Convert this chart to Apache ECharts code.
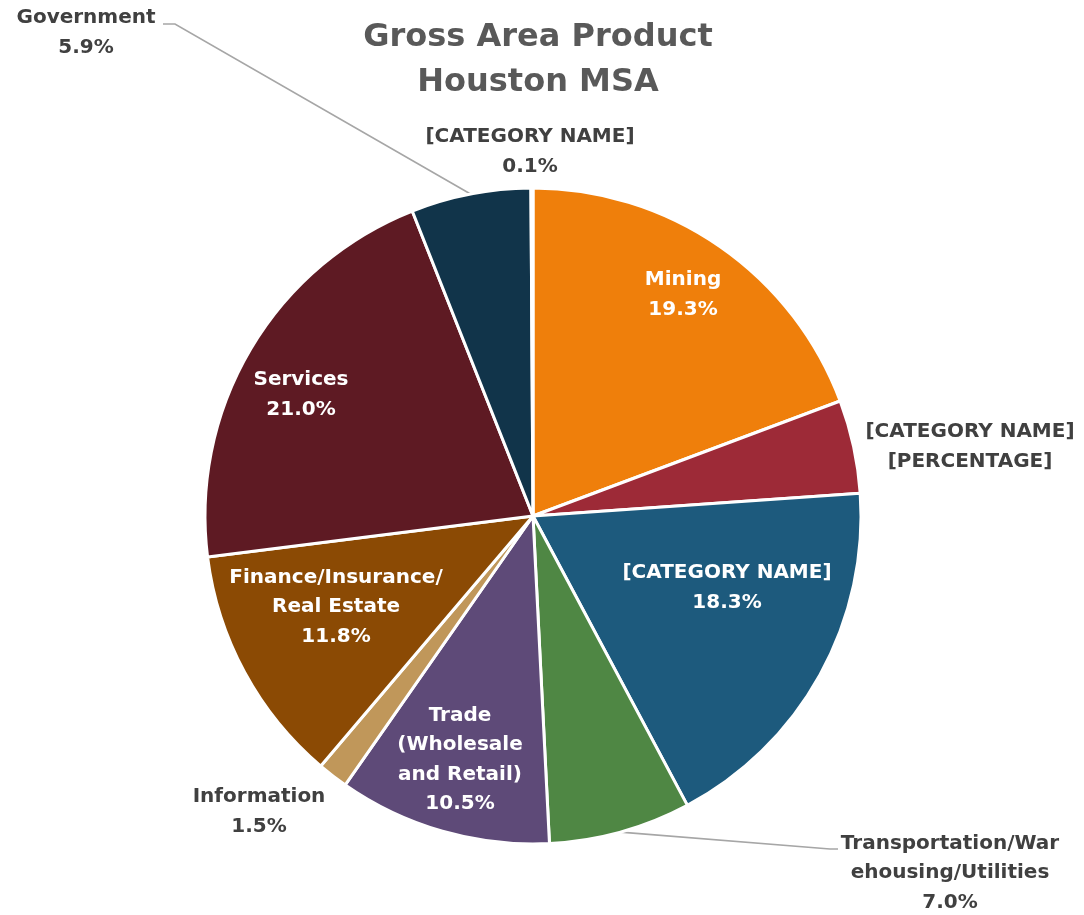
<!DOCTYPE html>
<html>
<head>
<meta charset="utf-8">
<script src="https://cdn.jsdelivr.net/npm/echarts@6/dist/echarts.min.js"></script>
<style>
html,body{margin:0;padding:0;background:#fff;}
#chart{width:1084px;height:915px;}
</style>
</head>
<body>
<div id="chart"></div>
<script>
// ---- data ----
const categories = ['Mining', '[CATEGORY NAME]', '[CATEGORY NAME]', 'Transportation/Warehousing/Utilities',
  'Trade (Wholesale and Retail)', 'Information', 'Finance/Insurance/Real Estate', 'Services', 'Government', '[CATEGORY NAME]'];
const values = [19.3, 4.6, 18.3, 7.0, 10.5, 1.5, 11.8, 21.0, 5.9, 0.1];
const labelNames = ['Mining', '[CATEGORY NAME]', '[CATEGORY NAME]', 'Transportation/War\nehousing/Utilities',
  'Trade\n(Wholesale\nand Retail)', 'Information', 'Finance/Insurance/\nReal Estate', 'Services', 'Government', '[CATEGORY NAME]'];
const percentTexts = ['19.3%', '[PERCENTAGE]', '18.3%', '7.0%', '10.5%', '1.5%', '11.8%', '21.0%', '5.9%', '0.1%'];
const colors = ['#EF7F0B', '#9D2A37', '#1D5A7D', '#4F8744', '#5E4A78', '#C0975A', '#8B4A04', '#5E1A23', '#11344A', '#1D5A7D'];
const insideLabel = [true, false, true, false, true, false, true, true, false, false];

// ---- layout (pixel positions of label centers, leader elbows) ----
const CX = 533, CY = 516, R = 328;
const labelPos = [
  [683, 295], [970, 447], [727, 588], [950, 873], [460, 760],
  [259, 812], [336, 607], [301, 395], [86, 33], [530, 152]
];
const leader = {
  8: [[175, 24], [163, 24]],
  3: [[830, 849], [838, 849]]
};

const total = values.reduce((a, b) => a + b, 0);
function midAngle(i) {
  let cum = 0;
  for (let k = 0; k < i; k++) cum += values[k];
  return ((cum + values[i] / 2) / total) * 2 * Math.PI;
}

const chart = echarts.init(document.getElementById('chart'), null, {renderer: 'canvas'});
const FONT = '"DejaVu Sans", sans-serif';

const data = categories.map((c, i) => ({
  name: c,
  value: values[i],
  itemStyle: {color: colors[i]},
  label: {
    position: insideLabel[i] ? 'inside' : 'outside',
    color: insideLabel[i] ? '#ffffff' : '#404040'
  },
  labelLine: {show: !!leader[i], lineStyle: {color: '#A6A6A6', width: 1.6}}
}));

chart.setOption({
  backgroundColor: '#ffffff',
  title: {
    text: 'Gross Area Product\nHouston MSA',
    left: 533, top: 10, textAlign: 'center',
    textStyle: {fontFamily: FONT, fontSize: 32, fontWeight: 'bold', color: '#595959', lineHeight: 45}
  },
  series: [{
    type: 'pie',
    center: [CX, CY],
    radius: R,
    startAngle: 90,
    clockwise: true,
    avoidLabelOverlap: false,
    animation: false,
    itemStyle: {borderColor: '#ffffff', borderWidth: 3},
    label: {
      show: true,
      fontFamily: FONT,
      fontSize: 20,
      fontWeight: 'bold',
      lineHeight: 29.5,
      align: 'center',
      formatter: p => labelNames[p.dataIndex] + '\n' + percentTexts[p.dataIndex]
    },
    labelLine: {show: false},
    labelLayout: function (params) {
      const i = params.dataIndex;
      const pos = labelPos[i];
      const out = {x: pos[0], y: pos[1], align: 'center', verticalAlign: 'middle'};
      if (leader[i]) {
        const a = midAngle(i);
        const start = [CX + R * Math.sin(a), CY - R * Math.cos(a)];
        out.labelLinePoints = [start, leader[i][0], leader[i][1]];
      }
      return out;
    },
    data: data
  }]
});
</script>
</body>
</html>
